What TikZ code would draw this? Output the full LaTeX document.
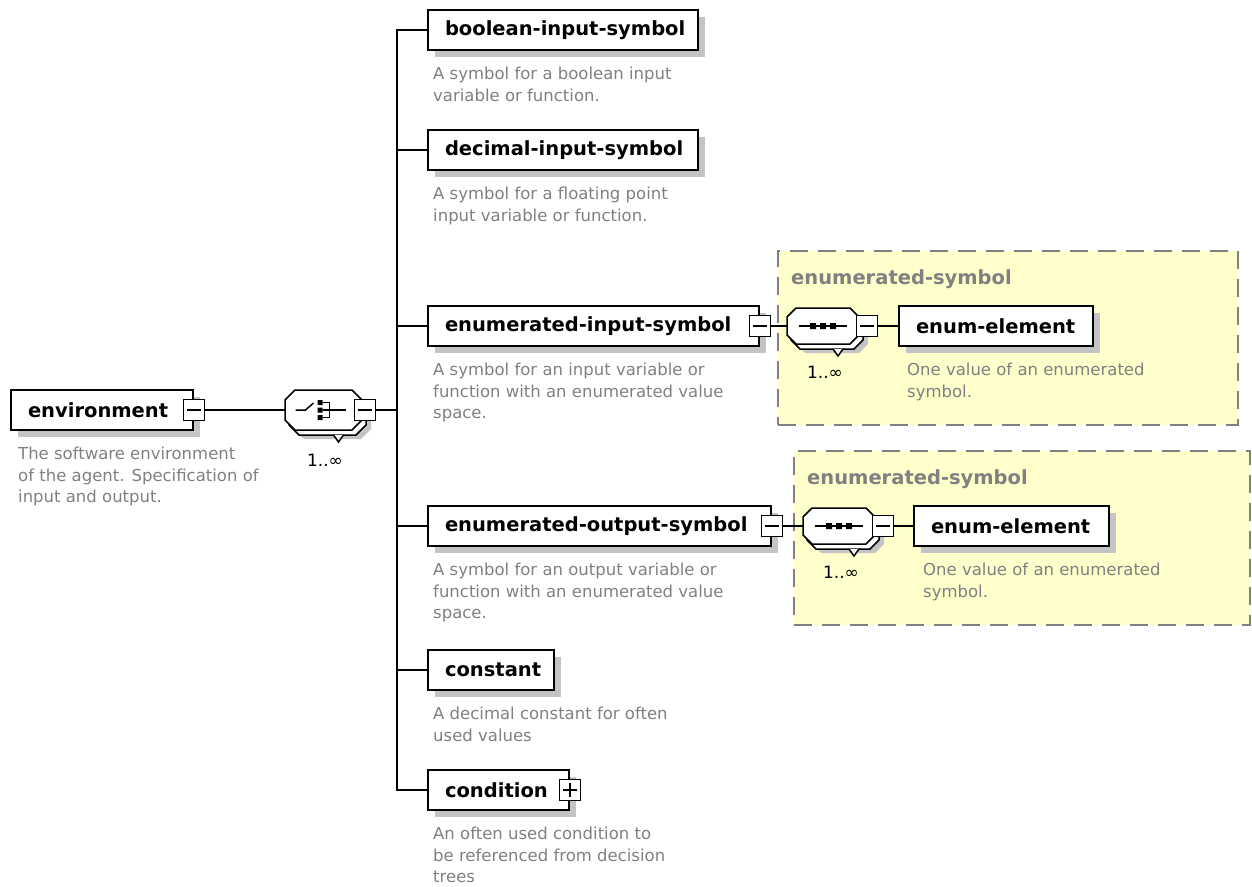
\documentclass[tikz,border=0pt]{standalone}
\usepackage{fontspec}
\setmainfont{DejaVu Sans}
\usetikzlibrary{shadows}

\definecolor{descgray}{RGB}{128,128,128}
\definecolor{shadegray}{RGB}{196,196,196}
\definecolor{groupfill}{RGB}{255,255,204}
\definecolor{groupline}{RGB}{128,128,128}

\newcommand\lblfont{\fontsize{19.5}{22}\selectfont\bfseries}
\newcommand\descfont{\fontsize{16.5}{21.5}\selectfont}
\newcommand\multfont{\fontsize{17}{20}\selectfont}

% octagon outline: centre x, centre y, half width, half height, corner cut
\newcommand\octo[5]{%
  ({#1-#3+#5},{#2-#4}) -- ({#1+#3-#5},{#2-#4}) -- ({#1+#3},{#2-#4+#5}) --
  ({#1+#3},{#2+#4-#5}) -- ({#1+#3-#5},{#2+#4}) -- ({#1-#3+#5},{#2+#4}) --
  ({#1-#3},{#2+#4-#5}) -- ({#1-#3},{#2-#4+#5}) -- cycle}

% compositor body: shadow, stacked copy, multiplicity notch, front face
\newcommand\compbody[5]{%
  \fill[shadegray] \octo{#1+9}{#2+9}{#3}{#4}{#5};
  \draw[compline, fill=white] \octo{#1+4}{#2+5}{#3}{#4}{#5};
  \draw[compline, fill=white] ({#1+10},{#2+#4+5}) -- ++(5,7) -- ++(5,-7);
  \draw[compline, fill=white] \octo{#1}{#2}{#3}{#4}{#5};}

\tikzset{
  elem/.style={draw, line width=2pt, fill=white, minimum height=40pt,
    inner xsep=17pt, inner ysep=0pt, anchor=west, align=left,
    font=\lblfont, text width=#1,
    drop shadow={shadow xshift=7pt, shadow yshift=-7pt, fill=shadegray, opacity=1}},
  desc/.style={anchor=north west, align=left, inner sep=0pt,
    font=\descfont, text=descgray},
  tog/.style={draw, line width=1.4pt, fill=white, minimum size=21pt, inner sep=0pt,
    path picture={\draw[line width=1.2pt]
      ([xshift=3.5pt]path picture bounding box.west) --
      ([xshift=-3.5pt]path picture bounding box.east);}},
  togplus/.style={draw, line width=1.4pt, fill=white, minimum size=21pt, inner sep=0pt,
    path picture={\draw[line width=1.2pt]
      ([xshift=3.5pt]path picture bounding box.west) --
      ([xshift=-3.5pt]path picture bounding box.east)
      ([yshift=-3.5pt]path picture bounding box.north) --
      ([yshift=3.5pt]path picture bounding box.south);}},
  comp/.style={inner sep=0pt, outer sep=0pt},
  compline/.style={draw=black, line width=1.5pt},
  icon/.style={line width=1.5pt},
  mult/.style={font=\multfont, inner sep=0pt},
  conn/.style={line width=1.6pt},
  group/.style={draw=groupline, fill=groupfill, line width=2pt,
    dash pattern=on 18pt off 10pt, anchor=north west, inner sep=0pt},
  grouptitle/.style={anchor=base west, inner sep=0pt, font=\lblfont, text=descgray},
}

\begin{document}
\begin{tikzpicture}[x=1pt, y=-1pt]
\useasboundingbox (0,0) rectangle (1252,886);

% group frames for the two enumerated-symbol types
\node[group, minimum width=460pt, minimum height=174pt] (grp1) at (777,250) {};
\node[group, minimum width=456pt, minimum height=174pt] (grp2) at (793,450) {};
\node[grouptitle] (grp1title) at (791,284) {enumerated-symbol};
\node[grouptitle] (grp2title) at (807,484) {enumerated-symbol};

% root element
\node[elem=148pt] (env) at (10,410) {\mbox{environment}};
\node[tog] (envtog) at (env.east) {};
\node[desc] (envdesc) at ([shift={(8pt,-16pt)}]env.south west)
  {The software environment\\of the agent. Specification of\\input and output.};

% choice compositor
\compbody{323.5}{410}{38.5}{20}{10}
\node[comp, minimum width=77pt, minimum height=40pt] (comp0) at (323.5,410) {};
\begin{scope}[shift={(comp0.center)}]
  \draw[icon] (-28,0) -- (-18,0) -- (-10,-7);
  \fill (-6,-10) rectangle (-1,-5) (-6,-2.5) rectangle (-1,2.5) (-6,5) rectangle (-1,10);
  \draw[icon] (-1,-7.5) -- (6,-7.5) -- (6,7.5) -- (-1,7.5);
  \draw[icon] (-1,0) -- (22,0);
\end{scope}
\node[tog] (c0tog) at (365,410) {};
\node[mult] (m0) at (325,460) {1..∞};
\coordinate (trunk) at (397,410);

% children of the choice
\node[elem=236pt] (bool) at (427,30) {\mbox{boolean-input-symbol}};
\node[desc] (booldesc) at ([shift={(6pt,-16pt)}]bool.south west)
  {A symbol for a boolean input\\variable or function.};

\node[elem=236pt] (dec) at (427,150) {\mbox{decimal-input-symbol}};
\node[desc] (decdesc) at ([shift={(6pt,-16pt)}]dec.south west)
  {A symbol for a floating point\\input variable or function.};

\node[elem=297pt] (ein) at (427,326) {\mbox{enumerated-input-symbol}};
\node[tog] (eintog) at (ein.east) {};
\node[desc] (eindesc) at ([shift={(6pt,-16pt)}]ein.south west)
  {A symbol for an input variable or\\function with an enumerated value\\space.};

\node[elem=309pt] (eout) at (427,526) {\mbox{enumerated-output-symbol}};
\node[tog] (eouttog) at (eout.east) {};
\node[desc] (eoutdesc) at ([shift={(6pt,-16pt)}]eout.south west)
  {A symbol for an output variable or\\function with an enumerated value\\space.};

\node[elem=92pt] (const) at (427,670) {\mbox{constant}};
\node[desc] (constdesc) at ([shift={(6pt,-16pt)}]const.south west)
  {A decimal constant for often\\used values};

\node[elem=107pt] (cond) at (427,790) {\mbox{condition}};
\node[togplus] (condtog) at (cond.east) {};
\node[desc] (conddesc) at ([shift={(6pt,-16pt)}]cond.south west)
  {An often used condition to\\be referenced from decision\\trees};

% sequence inside enumerated-input-symbol
\compbody{823}{326}{36}{18}{9}
\node[comp, minimum width=72pt, minimum height=36pt] (comp1) at (823,326) {};
\begin{scope}[shift={(comp1.center)}]
  \draw[icon] (-24,0) -- (24,0);
  \fill (-13,-3) rectangle (-7,3) (-3,-3) rectangle (3,3) (7,-3) rectangle (13,3);
\end{scope}
\node[tog] (c1tog) at (867,326) {};
\node[mult] (m1) at (825,372) {1..∞};
\node[elem=160pt] (ee1) at (898,326) {\mbox{enum-element}};
\node[desc] (ee1desc) at ([shift={(9pt,-16pt)}]ee1.south west)
  {One value of an enumerated\\symbol.};

% sequence inside enumerated-output-symbol
\compbody{839}{526}{36}{18}{9}
\node[comp, minimum width=72pt, minimum height=36pt] (comp2) at (839,526) {};
\begin{scope}[shift={(comp2.center)}]
  \draw[icon] (-24,0) -- (24,0);
  \fill (-13,-3) rectangle (-7,3) (-3,-3) rectangle (3,3) (7,-3) rectangle (13,3);
\end{scope}
\node[tog] (c2tog) at (883,526) {};
\node[mult] (m2) at (841,572) {1..∞};
\node[elem=161pt] (ee2) at (913,526) {\mbox{enum-element}};
\node[desc] (ee2desc) at ([shift={(10pt,-16pt)}]ee2.south west)
  {One value of an enumerated\\symbol.};

% connectors
\draw[conn] (envtog) -- (comp0);
\draw[conn] (c0tog) -- (trunk);
\draw[conn] (trunk) |- (bool);
\draw[conn] (trunk) |- (dec);
\draw[conn] (trunk) |- (ein);
\draw[conn] (trunk) |- (eout);
\draw[conn] (trunk) |- (const);
\draw[conn] (trunk) |- (cond);
\draw[conn] (eintog) -- (comp1);
\draw[conn] (c1tog) -- (ee1);
\draw[conn] (eouttog) -- (comp2);
\draw[conn] (c2tog) -- (ee2);
\end{tikzpicture}
\end{document}
